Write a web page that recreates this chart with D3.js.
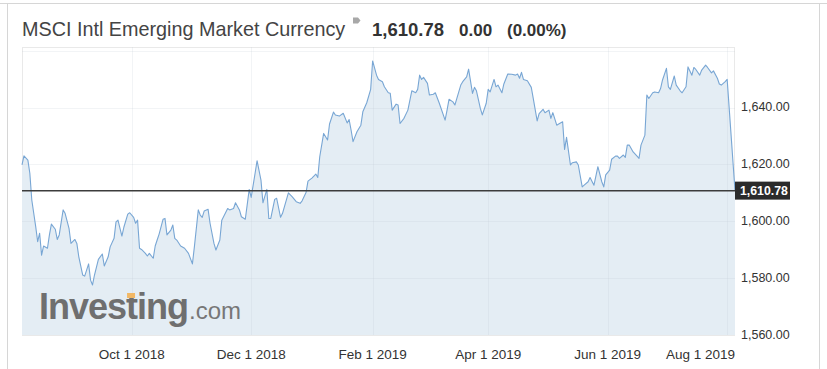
<!DOCTYPE html>
<html>
<head>
<meta charset="utf-8">
<script src="https://cdn.jsdelivr.net/npm/d3@7"></script>
<style>
  html, body { margin: 0; padding: 0; background: #fff; }
  svg { display: block; font-family: Arial, "Liberation Sans", sans-serif; }
</style>
</head>
<body>
<svg id="chart" width="827" height="369"></svg>
<script>
// ---------- data ----------
const titleText = "MSCI Intl Emerging Market Currency";
const lastPriceText = "1,610.78";
const changeText = "0.00";
const changePctText = "(0.00%)";
const lastPrice = 1610.78;

const dates = [
"2018-08-06","2018-08-07","2018-08-09","2018-08-10","2018-08-11","2018-08-13","2018-08-14","2018-08-15","2018-08-16","2018-08-17",
"2018-08-19","2018-08-20","2018-08-21","2018-08-23","2018-08-24","2018-08-25","2018-08-27","2018-08-28","2018-08-30","2018-08-31",
"2018-09-02","2018-09-03","2018-09-04","2018-09-06","2018-09-07","2018-09-09","2018-09-10","2018-09-11","2018-09-12","2018-09-14",
"2018-09-16","2018-09-17","2018-09-19","2018-09-20","2018-09-22","2018-09-23","2018-09-24","2018-09-26","2018-09-27","2018-09-29",
"2018-09-30","2018-10-02","2018-10-03","2018-10-04","2018-10-05","2018-10-06","2018-10-08","2018-10-09","2018-10-10","2018-10-12",
"2018-10-13","2018-10-14","2018-10-15","2018-10-17","2018-10-18","2018-10-19","2018-10-21","2018-10-22","2018-10-23","2018-10-24",
"2018-10-26","2018-10-28","2018-10-30","2018-11-01","2018-11-02","2018-11-04","2018-11-05","2018-11-06","2018-11-07","2018-11-09",
"2018-11-10","2018-11-12","2018-11-13","2018-11-15","2018-11-16","2018-11-19","2018-11-20","2018-11-22","2018-11-23","2018-11-25",
"2018-11-26","2018-11-28","2018-11-30","2018-12-01","2018-12-03","2018-12-04","2018-12-06","2018-12-07","2018-12-09","2018-12-10",
"2018-12-11","2018-12-13","2018-12-14","2018-12-16","2018-12-17","2018-12-20","2018-12-22","2018-12-24","2018-12-26","2018-12-27",
"2018-12-29","2018-12-30","2019-01-01","2019-01-03","2019-01-04","2019-01-05","2019-01-07","2019-01-09","2019-01-10","2019-01-12",
"2019-01-13","2019-01-15","2019-01-17","2019-01-19","2019-01-20","2019-01-21","2019-01-22","2019-01-24","2019-01-26","2019-01-27",
"2019-01-29","2019-01-31","2019-02-01","2019-02-03","2019-02-04","2019-02-06","2019-02-07","2019-02-09","2019-02-10","2019-02-11",
"2019-02-13","2019-02-14","2019-02-15","2019-02-17","2019-02-19","2019-02-21","2019-02-23","2019-02-24","2019-02-25","2019-02-26",
"2019-02-27","2019-03-01","2019-03-02","2019-03-04","2019-03-05","2019-03-07","2019-03-10","2019-03-11","2019-03-12","2019-03-14",
"2019-03-15","2019-03-16","2019-03-18","2019-03-19","2019-03-21","2019-03-22","2019-03-24","2019-03-25","2019-03-26","2019-03-28",
"2019-03-29","2019-03-31","2019-04-01","2019-04-02","2019-04-04","2019-04-05","2019-04-06","2019-04-08","2019-04-09","2019-04-11",
"2019-04-13","2019-04-15","2019-04-16","2019-04-17","2019-04-18","2019-04-19","2019-04-21","2019-04-23","2019-04-24","2019-04-26",
"2019-04-27","2019-04-29","2019-04-30","2019-05-02","2019-05-03","2019-05-04","2019-05-06","2019-05-07","2019-05-09","2019-05-10",
"2019-05-11","2019-05-13","2019-05-14","2019-05-16","2019-05-17","2019-05-19","2019-05-20","2019-05-22","2019-05-23","2019-05-25",
"2019-05-27","2019-05-29","2019-05-30","2019-05-31","2019-06-02","2019-06-03","2019-06-05","2019-06-06","2019-06-07","2019-06-09",
"2019-06-10","2019-06-11","2019-06-12","2019-06-14","2019-06-16","2019-06-17","2019-06-18","2019-06-20","2019-06-21","2019-06-22",
"2019-06-24","2019-06-25","2019-06-27","2019-06-28","2019-06-29","2019-07-01","2019-07-02","2019-07-03","2019-07-05","2019-07-06",
"2019-07-08","2019-07-09","2019-07-11","2019-07-12","2019-07-14","2019-07-15","2019-07-16","2019-07-18","2019-07-19","2019-07-21",
"2019-07-22","2019-07-24","2019-07-25","2019-07-27","2019-07-28","2019-07-29","2019-07-31","2019-08-01","2019-08-05"
];

const values = [
1619.8,1623.0,1621.5,1616.9,1607.5,1598.1,1592.8,1595.8,1588.1,1591.3,
1590.5,1595.2,1599.0,1597.2,1593.6,1595.2,1604.0,1602.8,1597.5,1592.2,
1593.6,1592.2,1587.5,1581.1,1580.7,1585.0,1579.3,1577.6,1581.1,1586.6,
1588.5,1584.3,1587.5,1591.0,1594.0,1599.8,1600.4,1594.8,1597.9,1602.5,
1603.0,1601.4,1599.3,1600.4,1590.5,1590.1,1588.7,1587.8,1588.7,1587.0,
1591.3,1593.4,1595.5,1600.7,1601.0,1595.2,1596.9,1598.7,1594.0,1593.4,
1591.3,1590.5,1588.7,1585.0,1591.0,1604.0,1602.2,1601.4,1603.6,1604.2,
1599.3,1592.2,1589.9,1593.4,1600.4,1604.5,1604.0,1604.5,1606.5,1604.0,
1601.6,1600.7,1611.2,1608.4,1616.9,1621.3,1614.5,1606.5,1611.2,1601.0,
1601.0,1607.7,1608.1,1601.4,1602.8,1610.0,1608.6,1606.9,1606.3,1607.2,
1610.1,1614.1,1615.2,1616.6,1615.4,1622.7,1630.9,1628.6,1634.2,1638.4,
1637.4,1637.0,1638.0,1634.6,1635.8,1632.1,1628.0,1631.5,1633.8,1638.5,
1641.7,1646.4,1656.4,1651.4,1649.9,1649.1,1647.3,1645.2,1645.0,1639.1,
1641.2,1640.9,1634.4,1636.2,1639.1,1645.9,1645.2,1646.4,1651.4,1649.9,
1650.6,1648.5,1644.4,1644.7,1645.2,1641.6,1635.6,1639.1,1642.9,1642.0,
1640.9,1643.2,1647.9,1649.1,1650.8,1653.5,1645.0,1647.1,1645.9,1639.7,
1637.4,1641.5,1646.4,1645.5,1649.9,1647.3,1647.9,1645.2,1648.3,1651.8,
1651.7,1651.4,1651.8,1650.3,1652.4,1649.9,1649.4,1647.1,1643.2,1635.3,
1637.9,1639.4,1638.2,1639.1,1636.2,1638.2,1633.8,1634.2,1635.0,1625.3,
1629.5,1619.8,1620.6,1620.9,1619.8,1612.1,1612.7,1613.9,1615.4,1612.7,
1619.2,1613.9,1612.1,1616.3,1618.0,1621.8,1622.9,1622.9,1622.1,1623.3,
1622.5,1626.8,1626.8,1624.4,1622.9,1622.1,1626.8,1630.3,1644.4,1643.2,
1645.2,1645.5,1645.2,1646.7,1649.7,1653.8,1647.3,1646.4,1651.1,1647.9,
1645.9,1645.2,1647.3,1654.3,1651.4,1654.1,1653.4,1651.4,1653.2,1654.9,
1654.1,1652.2,1652.9,1650.3,1648.3,1647.9,1649.1,1649.9,1610.78
];

const xTickDates = ["2018-10-01","2018-12-01","2019-02-01","2019-04-01","2019-06-01","2019-08-01"];
const xTickLabels = ["Oct 1 2018","Dec 1 2018","Feb 1 2019","Apr 1 2019","Jun 1 2019","Aug 1 2019"];
const yTickValues = [1560, 1580, 1600, 1620, 1640];
const yGridValues = [1580, 1600, 1620, 1640, 1660];
const domainStart = "2018-08-06";
const domainEnd = "2019-08-05";
const yDomain = [1560, 1661.3];

// ---------- layout ----------
const svg = d3.select("#chart");
const plot = { left: 22, right: 735, top: 47, bottom: 335 };
const parse = d3.utcParse("%Y-%m-%d");
const data = dates.map((d, i) => ({ date: parse(d), value: values[i] }));

const x = d3.scaleUtc().domain([parse(domainStart), parse(domainEnd)]).range([plot.left, plot.right]);
const y = d3.scaleLinear().domain(yDomain).range([plot.bottom, plot.top]);

// outer frame
svg.append("line").attr("x1", 0).attr("x2", 827).attr("y1", 3.5).attr("y2", 3.5).attr("stroke", "#d6d6d6");
svg.append("line").attr("x1", 7.5).attr("x2", 7.5).attr("y1", 3.5).attr("y2", 369).attr("stroke", "#d6d6d6");
svg.append("line").attr("x1", 819.5).attr("x2", 819.5).attr("y1", 3.5).attr("y2", 369).attr("stroke", "#d6d6d6");

// title
const title = svg.append("g");
title.append("text").attr("x", 22).attr("y", 36).attr("font-size", 19.8).attr("fill", "#444").text(titleText);
title.append("path").attr("d", "M353,17.5 L358,17.5 L360.5,20.5 L358,23.5 L353,23.5 Z").attr("fill", "#a8a8a8");
title.append("text").attr("x", 372).attr("y", 36).attr("font-size", 18.5).attr("font-weight", "bold").attr("fill", "#333").text(lastPriceText);
title.append("text").attr("x", 459).attr("y", 36).attr("font-size", 17).attr("font-weight", "bold").attr("fill", "#333").text(changeText);
title.append("text").attr("x", 507).attr("y", 36).attr("font-size", 17).attr("font-weight", "bold").attr("fill", "#333").text(changePctText);

// plot border
svg.append("rect").attr("x", plot.left + 0.5).attr("y", plot.top + 0.5)
  .attr("width", plot.right - plot.left - 1).attr("height", plot.bottom - plot.top)
  .attr("fill", "#fff").attr("stroke", "#e9e9e9");

// area + line
const area = d3.area().x(d => x(d.date)).y0(plot.bottom).y1(d => y(d.value));
const line = d3.line().x(d => x(d.date)).y(d => y(d.value));
svg.append("path").datum(data).attr("d", area).attr("fill", "#e4edf4");

// gridlines
const grid = svg.append("g").attr("stroke", "rgba(190,200,210,0.2)").attr("stroke-width", 1);
grid.selectAll(".gy").data(yGridValues).join("line")
  .attr("x1", plot.left).attr("x2", plot.right)
  .attr("y1", d => Math.round(y(d)) + 0.5).attr("y2", d => Math.round(y(d)) + 0.5);
grid.selectAll(".gx").data(xTickDates).join("line")
  .attr("y1", plot.top).attr("y2", plot.bottom)
  .attr("x1", d => Math.round(x(parse(d))) + 0.5).attr("x2", d => Math.round(x(parse(d))) + 0.5);

// watermark
const wm = svg.append("g");
const wmText = wm.append("text").attr("x", 39).attr("y", 319).attr("font-size", 36).attr("font-weight", "bold")
  .attr("letter-spacing", -1).attr("fill", "#6f6f6f").text("Investing");
const tPos = wmText.node().getStartPositionOfChar(5);
const tExt = wmText.node().getExtentOfChar(5);
wm.append("rect").attr("x", tPos.x + 1).attr("y", 293).attr("width", Math.max(5, tExt.width - 3)).attr("height", 5).attr("fill", "#f2b866");
const wmEnd = wmText.node().getBBox();
wm.append("text").attr("x", wmEnd.x + wmEnd.width + 1).attr("y", 319).attr("font-size", 24)
  .attr("fill", "#777").text(".com");

svg.append("path").datum(data).attr("d", line).attr("fill", "none")
  .attr("stroke", "#78a6d4").attr("stroke-width", 1.1).attr("stroke-linejoin", "round");

// last price line
svg.append("line").attr("x1", plot.left).attr("x2", plot.right)
  .attr("y1", y(lastPrice)).attr("y2", y(lastPrice))
  .attr("stroke", "#3c3c3c").attr("stroke-width", 1.5);

// y axis labels
const yAxis = d3.axisRight(y).tickValues(yTickValues).tickSize(0).tickPadding(0)
  .tickFormat(d3.format(",.2f"));
const gy = svg.append("g").attr("transform", `translate(${plot.right + 6},-1)`).call(yAxis);
gy.select(".domain").remove();
gy.selectAll("text").attr("font-size", 12.5).attr("fill", "#333").attr("font-family", "Arial, 'Liberation Sans', sans-serif");

// last price tag
const tag = svg.append("g");
tag.append("rect").attr("x", plot.right).attr("y", y(lastPrice) - 9).attr("width", 55).attr("height", 18).attr("fill", "#2b2b2b");
tag.append("text").attr("x", plot.right + 5).attr("y", y(lastPrice) + 4.5).attr("font-size", 12.3)
  .attr("font-weight", "bold").attr("fill", "#fff").text(d3.format(",.2f")(lastPrice));

// x axis labels
const gx = svg.append("g");
gx.selectAll("text").data(xTickDates).join("text")
  .attr("y", 359).attr("font-size", 13.5).attr("fill", "#333")
  .text((d, i) => xTickLabels[i])
  .each(function(d) {
    const t = d3.select(this);
    const w = this.getComputedTextLength();
    let cx = x(parse(d));
    let left = cx - w / 2;
    if (left + w > plot.right) left = plot.right - w;
    t.attr("x", left);
  });
</script>
</body>
</html>
